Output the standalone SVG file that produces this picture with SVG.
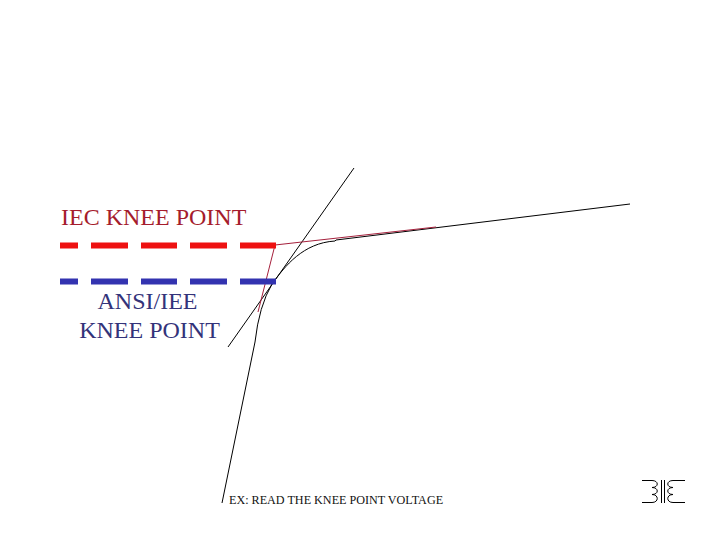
<svg xmlns="http://www.w3.org/2000/svg" width="720" height="540" viewBox="0 0 720 540">
<style>
text{font-family:"Liberation Serif","Times New Roman",serif}
.lbl{font-size:24px}
.blk{fill:none;stroke:#000;stroke-width:1}
.red{fill:none;stroke:#a5203c;stroke-width:1}
.sym{fill:none;stroke:#000;stroke-width:1}
</style>
<rect width="720" height="540" fill="#fff"/>
<g id="connectors">
<path class="blk" d="M222 503L255 342Q259 306 272 284C285 266 303 243 335 241L336 240L630 204"/>
<path class="blk" d="M228 347L354 168"/>
<path class="red" d="M258 312L275 245L436 227"/>
</g>
<g id="iec-knee">
<text class="lbl" x="61" y="225" fill="#a51c2c">IEC KNEE POINT</text>
<path d="M60 245.500H78M91 245.500H128M141 245.500H177M190 245.500H227M240 245.500H276" fill="none" stroke="#ee1111" stroke-width="6"/>
</g>
<g id="ansi-knee">
<path d="M60 281.500H78M91 281.500H128M141 281.500H177M190 281.500H227M240 281.500H276" fill="none" stroke="#3333b0" stroke-width="6"/>
<text class="lbl" x="147.500" y="309" text-anchor="middle" fill="#33337a">ANSI/IEE</text>
<text class="lbl" x="149.500" y="338" text-anchor="middle" fill="#33337a">KNEE POINT</text>
</g>
<g id="note">
<text x="229" y="504" font-size="12.150" fill="#111">EX: READ THE KNEE POINT VOLTAGE</text>
</g>
<g id="logo">
<path class="sym" d="M642 480.500H652C659 480.500 659 487.500 652 487.500C659 487.500 659 494.500 652 494.500C659 494.500 659 502.500 652 502.500H642"/>
<path class="sym" d="M661.500 480V503M664.500 480V503"/>
<path class="sym" d="M685 480.500H673C666 480.500 666 487.500 673 487.500C666 487.500 666 494.500 673 494.500C666 494.500 666 502.500 673 502.500H685"/>
</g>
</svg>
